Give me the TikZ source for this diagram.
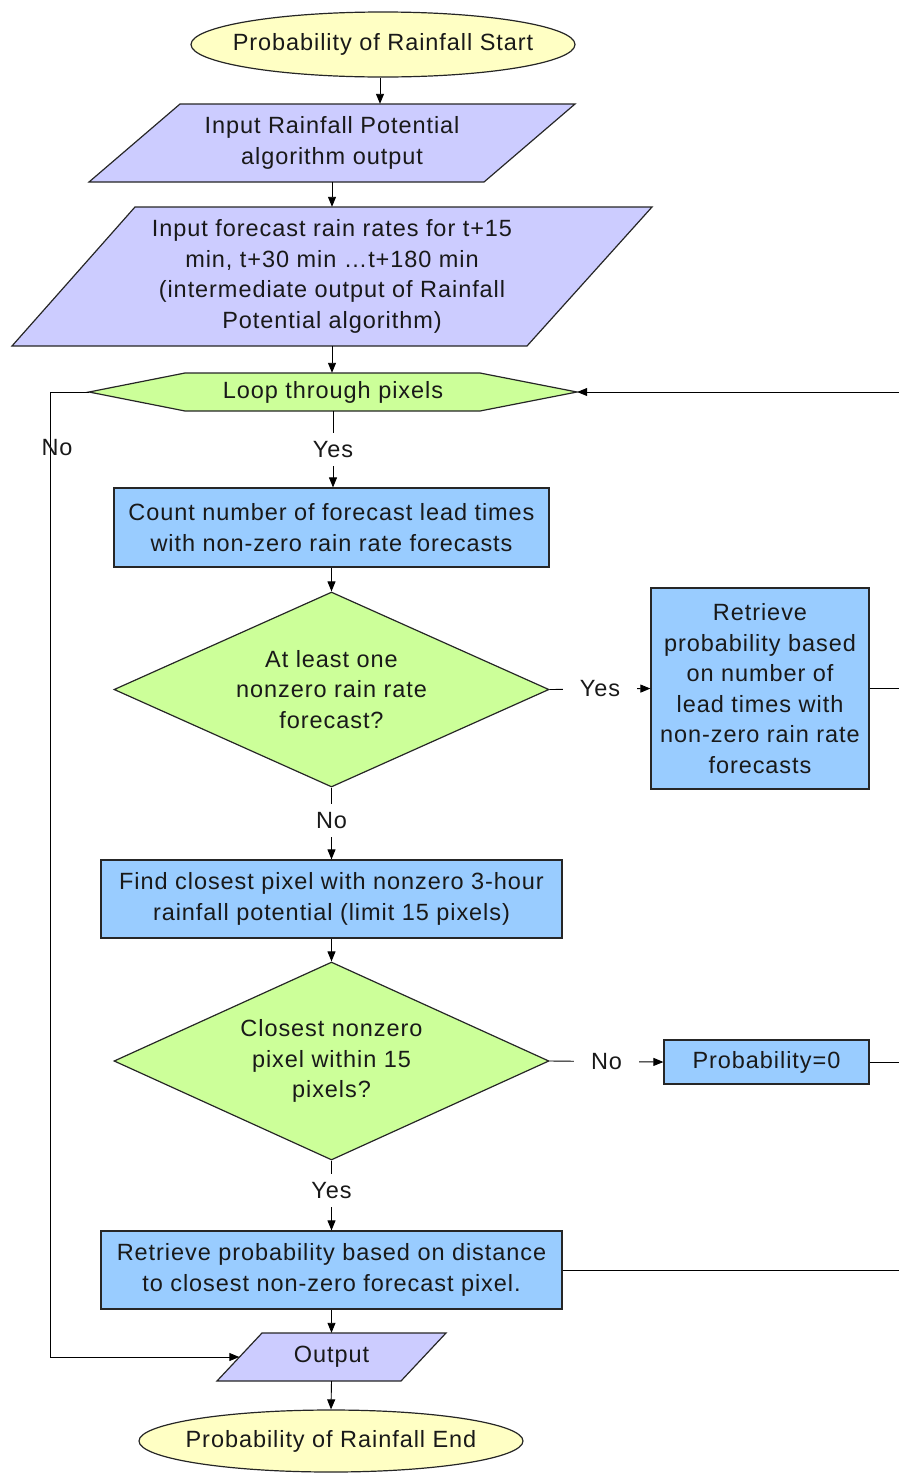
\documentclass[tikz,border=0pt]{standalone}
\usepackage{fontspec}
\setmainfont[LetterSpace=4]{Liberation Sans}
\usetikzlibrary{shapes.geometric,arrows.meta,calc}
\definecolor{termfill}{HTML}{FFFFC4}
\definecolor{iofill}{HTML}{CCCCFF}
\definecolor{decfill}{HTML}{CCFF99}
\definecolor{procfill}{HTML}{99CCFF}
\tikzset{
  lbl/.style={font=\fontsize{23.5}{30.5}\selectfont, align=center, inner sep=0pt, text=black!90},
  outline/.style={draw=black!85, line width=1.2pt},
  term/.style={lbl, outline, ellipse, fill=termfill},
  proc/.style={lbl, outline, rectangle, fill=procfill},
  dec/.style={lbl, outline, diamond, aspect=2.23, fill=decfill},
  holder/.style={lbl, rectangle},
  conn/.style={line width=0.9pt, draw=black},
  arr/.style={conn, -{Triangle[length=10pt,width=8pt]}},
  cut/.style={lbl, fill=white, inner sep=3pt},
}
\begin{document}
\begin{tikzpicture}[x=1pt,y=-1pt]
\path[use as bounding box] (0,0) rectangle (899,1473);
\clip (0,0) rectangle (899,1473);

% shapes drawn as paths (parallelograms, hexagon)
\draw[outline, fill=iofill] (180,104) -- (575,104) -- (484,182) -- (89,182) -- cycle;
\draw[outline, fill=iofill] (135,207) -- (652,207) -- (527,346) -- (12,346) -- cycle;
\draw[outline, fill=decfill] (89,392) -- (185,373) -- (480,373) -- (577,392) -- (480,411) -- (185,411) -- cycle;
\draw[outline, fill=iofill] (262,1333) -- (446,1333) -- (401,1381) -- (217,1381) -- cycle;

% nodes
\node[term, minimum width=384pt, minimum height=65pt] (start) at (383,44.5) {\makebox[0pt]{Probability of Rainfall Start}};
\node[holder, minimum width=486pt, minimum height=78pt] (in1) at (332,143) {Input Rainfall Potential\\algorithm output};
\node[holder, minimum width=640pt, minimum height=139pt] (in2) at (332,276.5) {Input forecast rain rates for t+15\\min, t+30 min \dots t+180 min\\(intermediate output of Rainfall\\Potential algorithm)};
\node[holder, minimum width=488pt, minimum height=38pt] (loop) at (333,392) {Loop through pixels};
\node[proc, minimum width=435pt, minimum height=79pt] (count) at (331.5,527.5) {Count number of forecast lead times\\with non-zero rain rate forecasts};
\node[dec, minimum width=435pt, minimum height=195pt] (d1) at (331.5,689.5) {At least one\\nonzero rain rate\\forecast?};
\node[proc, minimum width=218pt, minimum height=201pt] (retr1) at (760,688.5) {Retrieve\\probability based\\on number of\\lead times with\\non-zero rain rate\\forecasts};
\node[proc, minimum width=461pt, minimum height=78pt] (find) at (331.5,899) {Find closest pixel with nonzero 3-hour\\rainfall potential (limit 15 pixels)};
\node[dec, minimum width=435pt, minimum height=198pt] (d2) at (331.5,1061) {Closest nonzero\\pixel within 15\\pixels?};
\node[proc, minimum width=205pt, minimum height=44pt] (zero) at (766.5,1062) {Probability=0};
\node[proc, minimum width=461pt, minimum height=78pt] (retr2) at (331.5,1270) {Retrieve probability based on distance\\to closest non-zero forecast pixel.};
\node[holder, minimum width=229pt, minimum height=48pt] (out) at (331.5,1357) {Output};
\node[term, minimum width=384pt, minimum height=62pt] (end) at (331,1441) {\makebox[0pt]{Probability of Rainfall End}};

\coordinate (outedge) at ($(out.west)+(22.5,0)$);
\coordinate (rtop) at (905,392);
\coordinate (rb5) at (905,1270);

% connectors
\draw[arr] ($(start.south)+(-3,0)$) -- ($(start.south |- in1.north)+(-3,0)$);
\draw[arr] (in1.south) -- (in2.north);
\draw[arr] (in2.south) -- (in2.south |- loop.north);
\draw[arr] (loop.south) -- node[cut, inner ysep=8pt] {Yes} (loop.south |- count.north);
\draw[arr] (count.south) -- (d1.north);
\draw[arr] (d1.east) -- node[cut, inner xsep=17pt] {Yes} (retr1.west);
\draw[arr] (d1.south) -- node[cut, inner ysep=8pt, yshift=3pt] {No} (find.north);
\draw[arr] (find.south) -- (d2.north);
\draw[arr] (d2.east) -- node[cut, inner xsep=17pt] {No} (zero.west);
\draw[arr] (d2.south) -- node[cut, inner ysep=8pt, yshift=5pt] {Yes} (retr2.north);
\draw[arr] (retr2.south) -- (out.north);
\draw[arr] (out.south) -- (end.north);
\draw[arr] (loop.west) -- (50,392) -- (50,1357) -- (outedge);
\node[lbl] (nolbl) at (57,448) {No};
\draw[conn] (retr1.east) -- (905,688.5);
\draw[conn] (zero.east) -- (905,1062);
\draw[arr] (retr2.east) -- (rb5) -- (rtop) -- (loop.east);
\end{tikzpicture}
\end{document}
